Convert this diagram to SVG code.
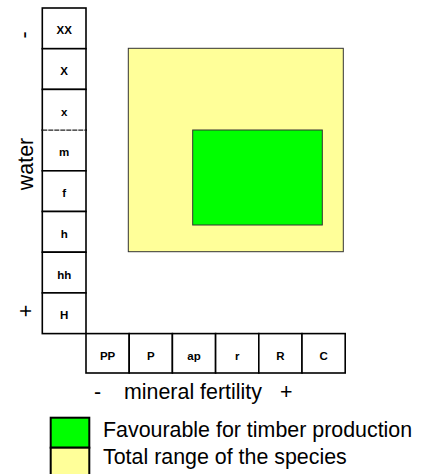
<svg xmlns="http://www.w3.org/2000/svg" width="425" height="474" viewBox="0 0 425 474">
<style>
.cell{fill:#fff;stroke:#000;stroke-width:1.6}
.lbl{font-family:"Liberation Sans",Arial,sans-serif;font-weight:bold;font-size:11.5px;text-anchor:middle;fill:#000}
.big{font-family:"Liberation Sans",Arial,sans-serif;font-size:21.4px;fill:#000}
</style>
<rect width="425" height="474" fill="#fff"/>
<g id="range">
<rect x="128.3" y="48.3" width="215" height="203.4" fill="#ffff99" stroke="#333" stroke-width="1"/>
</g>
<g id="favourable">
<rect x="192.7" y="130" width="129.6" height="95" fill="#00ff00" stroke="#333" stroke-width="1"/>
</g>
<g id="water-scale">
<g id="w-XX"><rect class="cell" x="42.3" y="8" width="43.7" height="40.7"/><text class="lbl" x="64.2" y="34.3">XX</text></g>
<g id="w-X"><rect class="cell" x="42.3" y="48.7" width="43.7" height="40.7"/><text class="lbl" x="64.2" y="75">X</text></g>
<g id="w-x"><rect class="cell" x="42.3" y="89.4" width="43.7" height="40.7"/><text class="lbl" x="64.2" y="115.7">x</text></g>
<g id="w-m"><rect class="cell" x="42.3" y="130.1" width="43.7" height="40.7"/><text class="lbl" x="64.2" y="156.4">m</text></g>
<g id="w-f"><rect class="cell" x="42.3" y="170.8" width="43.7" height="40.7"/><text class="lbl" x="64.2" y="197.1">f</text></g>
<g id="w-h"><rect class="cell" x="42.3" y="211.5" width="43.7" height="40.7"/><text class="lbl" x="64.2" y="237.8">h</text></g>
<g id="w-hh"><rect class="cell" x="42.3" y="252.2" width="43.7" height="40.7"/><text class="lbl" x="64.2" y="278.5">hh</text></g>
<g id="w-H"><rect class="cell" x="42.3" y="292.9" width="43.7" height="40.7"/><text class="lbl" x="64.2" y="319.2">H</text></g>
</g>
<g id="separator">
<line x1="43.2" y1="130.1" x2="85.1" y2="130.1" stroke="#fff" stroke-width="2"/>
<line x1="42.3" y1="130.1" x2="86" y2="130.1" stroke="#222" stroke-width="1.3" stroke-dasharray="5,1"/>
</g>
<g id="fertility-scale">
<g id="f-PP"><rect class="cell" x="86" y="333.6" width="43.2" height="39.4"/><text class="lbl" x="107.6" y="360">PP</text></g>
<g id="f-P"><rect class="cell" x="129.2" y="333.6" width="43.2" height="39.4"/><text class="lbl" x="150.8" y="360">P</text></g>
<g id="f-ap"><rect class="cell" x="172.4" y="333.6" width="43.2" height="39.4"/><text class="lbl" x="194" y="360">ap</text></g>
<g id="f-r"><rect class="cell" x="215.6" y="333.6" width="43.2" height="39.4"/><text class="lbl" x="237.2" y="360">r</text></g>
<g id="f-R"><rect class="cell" x="258.8" y="333.6" width="43.2" height="39.4"/><text class="lbl" x="280.4" y="360">R</text></g>
<g id="f-C"><rect class="cell" x="302" y="333.6" width="43.2" height="39.4"/><text class="lbl" x="323.6" y="360">C</text></g>
</g>
<g id="axis-labels">
<text class="big" text-anchor="middle" transform="translate(33,164) rotate(-90)">water</text>
<text class="big" text-anchor="middle" transform="translate(31,35) rotate(-90)">-</text>
<text class="big" text-anchor="middle" transform="translate(33,311) rotate(-90)">+</text>
<text class="big" x="94" y="399">-</text>
<text class="big" x="124" y="399">mineral fertility</text>
<text class="big" x="280" y="399">+</text>
</g>
<g id="legend">
<g id="legend-green"><rect x="50.7" y="417.7" width="38.6" height="30" fill="#00ff00" stroke="#000" stroke-width="2"/><text class="big" x="103" y="437">Favourable for timber production</text></g>
<g id="legend-yellow"><rect x="50.7" y="447.7" width="38.6" height="30" fill="#ffff99" stroke="#000" stroke-width="2"/><text class="big" x="103" y="464">Total range of the species</text></g>
</g>
</svg>
